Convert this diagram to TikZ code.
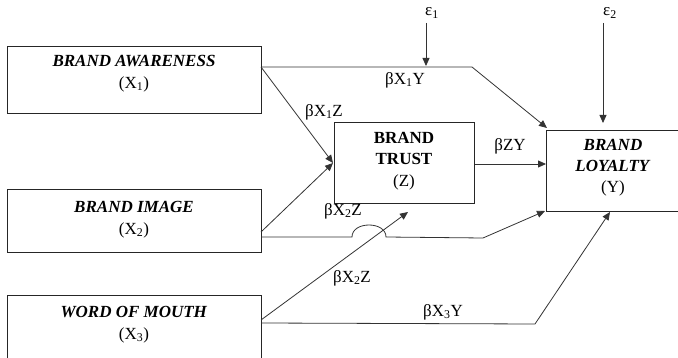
\documentclass[tikz,border=0pt]{standalone}
\usepackage{fontspec}
\setmainfont{Liberation Serif}
\usetikzlibrary{arrows.meta}
\tikzset{
  box/.style={draw=black!85, line width=0.8pt, inner sep=0pt, minimum width=#1},
  lbl/.style={font=\fontsize{17}{19}\selectfont, inner sep=0pt},
  conn/.style={draw=black!80, line width=0.8pt},
  arr/.style={conn, -{Triangle[length=8pt,width=7pt]}},
}
\begin{document}
\begin{tikzpicture}[x=1pt,y=-1pt]
\useasboundingbox (0,0) rectangle (678,358);
% boxes
\node[box=254pt, minimum height=67pt] (x1) at (134,79.5) {};
\node[box=254pt, minimum height=63pt] (x2) at (134,220.5) {};
\node[box=254pt, minimum height=75pt] (x3) at (134,332.5) {};
\node[box=140pt, minimum height=81pt] (z) at (404,162.5) {};
\node[box=134pt, minimum height=81pt] (y) at (613,170.5) {};
% box texts
\node[lbl] (t1a) at (134,61) {\textbf{\textit{BRAND AWARENESS}}};
\node[lbl] (t1b) at (134,84) {(X\textsubscript{1})};
\node[lbl] (t2a) at (134,207) {\textbf{\textit{BRAND IMAGE}}};
\node[lbl] (t2b) at (134,230) {(X\textsubscript{2})};
\node[lbl] (t3a) at (134,312) {\textbf{\textit{WORD OF MOUTH}}};
\node[lbl] (t3b) at (134,335) {(X\textsubscript{3})};
\node[lbl] (tza) at (404,138) {\textbf{BRAND}};
\node[lbl] (tzb) at (404,159) {\textbf{TRUST}};
\node[lbl] (tzc) at (404,182) {(Z)};
\node[lbl] (tya) at (613,145) {\textbf{\textit{BRAND}}};
\node[lbl] (tyb) at (613,166) {\textbf{\textit{LOYALTY}}};
\node[lbl] (tyc) at (613,188) {(Y)};
% error terms
\node[lbl] (e1) at (432,13) {ε\textsubscript{1}};
\node[lbl] (e2) at (610,13) {ε\textsubscript{2}};
\coordinate (e1s) at (426,23);
\coordinate (e1t) at (426,66);
\coordinate (e2s) at (603,23);
\coordinate (e2t) at (603,123);
\draw[arr] (e1s) -- (e1t);
\draw[arr] (e2s) -- (e2t);
% connector points
\coordinate (a1) at (261,67);
\coordinate (b1) at (472,67);
\coordinate (ytl) at (547,128);
\coordinate (zl) at (333,163);
\coordinate (a2) at (261,232);
\coordinate (a2b) at (261,237);
\coordinate (h1) at (352,237);
\coordinate (h2) at (386,237);
\coordinate (b2) at (483,238);
\coordinate (yl) at (545,211);
\coordinate (a3) at (261,320);
\coordinate (zb) at (408,212);
\coordinate (a3b) at (261,323);
\coordinate (b3) at (535,324);
\coordinate (yb) at (610,212);
\coordinate (zr) at (475,164);
\coordinate (yr) at (546,164);
% connectors
\draw[arr] (a1) -- (b1) -- (ytl);
\draw[arr] (a1) -- (zl);
\draw[arr] (a2) -- (zl);
\draw[arr] (a2b) -- (h1) .. controls (352,221) and (386,221) .. (h2) -- (b2) -- (yl);
\draw[arr] (a3) -- (zb);
\draw[arr] (a3b) -- (b3) -- (yb);
\draw[arr] (zr) -- (yr);
% path labels
\node[lbl] (l1) at (405,80) {βX\textsubscript{1}Y};
\node[lbl] (l2) at (324,112) {βX\textsubscript{1}Z};
\node[lbl] (l3) at (510,146) {βZY};
\node[lbl] (l4) at (343,211) {βX\textsubscript{2}Z};
\node[lbl] (l5) at (352,278) {βX\textsubscript{2}Z};
\node[lbl] (l6) at (443,312) {βX\textsubscript{3}Y};
\end{tikzpicture}
\end{document}
